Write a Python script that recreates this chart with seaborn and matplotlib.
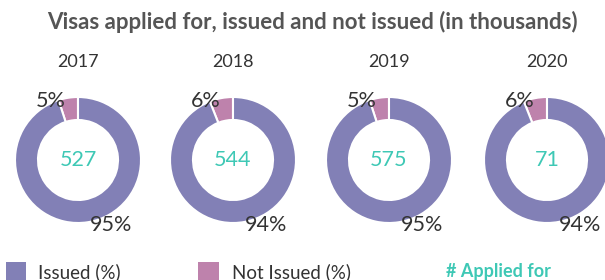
import matplotlib
matplotlib.use("Agg")
import matplotlib.pyplot as plt
import seaborn as sns

# ---- data ----
years = ["2017", "2018", "2019", "2020"]
issued_pct = [95, 94, 95, 94]
not_issued_pct = [5, 6, 5, 6]
applied_for = [527, 544, 575, 71]
legend_labels = ["Issued (%)", "Not Issued (%)"]
title = "Visas applied for, issued and not issued (in thousands)"

# ---- style ----
sns.set_theme(style="white")
plt.rcParams["font.family"] = ["Lato", "DejaVu Sans"]
C_ISSUED = "#8280B6"
C_NOT = "#BE82AC"
C_TEAL = "#3EC8B5"
C_TEXT = "#333333"
C_TITLE = "#555555"

W, H = 605, 280
fig = plt.figure(figsize=(W / 100, H / 100), dpi=100)
ax = fig.add_axes([0, 0, 1, 1])

centers_x = [78, 233, 389, 547]
cy = H - 160
R = 63
ring = 23

for i, yr in enumerate(years):
    cx = centers_x[i]
    ax.pie([not_issued_pct[i], issued_pct[i]], colors=[C_NOT, C_ISSUED],
           startangle=90, counterclock=True, center=(cx, cy), radius=R,
           wedgeprops=dict(width=ring, edgecolor="white", linewidth=1.5))
    ax.text(cx, H - 62, yr, ha="center", va="center", fontsize=13, color=C_TEXT)
    ax.text(cx, cy, f"{applied_for[i]}", ha="center", va="center",
            fontsize=15.5, color=C_TEAL)
    ax.text(cx - 27, cy + 59, f"{not_issued_pct[i]}%", ha="center", va="center",
            fontsize=15.5, color=C_TEXT)
    ax.text(cx + 33, cy - 65, f"{issued_pct[i]}%", ha="center", va="center",
            fontsize=15.5, color=C_TEXT)

ax.text(312, H - 22, title, ha="center", va="center", fontsize=16,
        fontweight="bold", color=C_TITLE)

# legend
ax.add_patch(plt.Rectangle((6, 0), 20, H - 262, color=C_ISSUED, lw=0))
ax.text(38, H - 272, legend_labels[0], ha="left", va="center", fontsize=13.5, color=C_TEXT)
ax.add_patch(plt.Rectangle((198, 0), 21, H - 262, color=C_NOT, lw=0))
ax.text(232, H - 272, legend_labels[1], ha="left", va="center", fontsize=13.5, color=C_TEXT)
ax.text(446, H - 271, "# Applied for", ha="left", va="center", fontsize=13,
        fontweight="bold", color=C_TEAL)

ax.set_xlim(0, W)
ax.set_ylim(0, H)
ax.set_aspect("auto")
ax.axis("off")

fig.savefig("out.png", dpi=100, facecolor="white")
